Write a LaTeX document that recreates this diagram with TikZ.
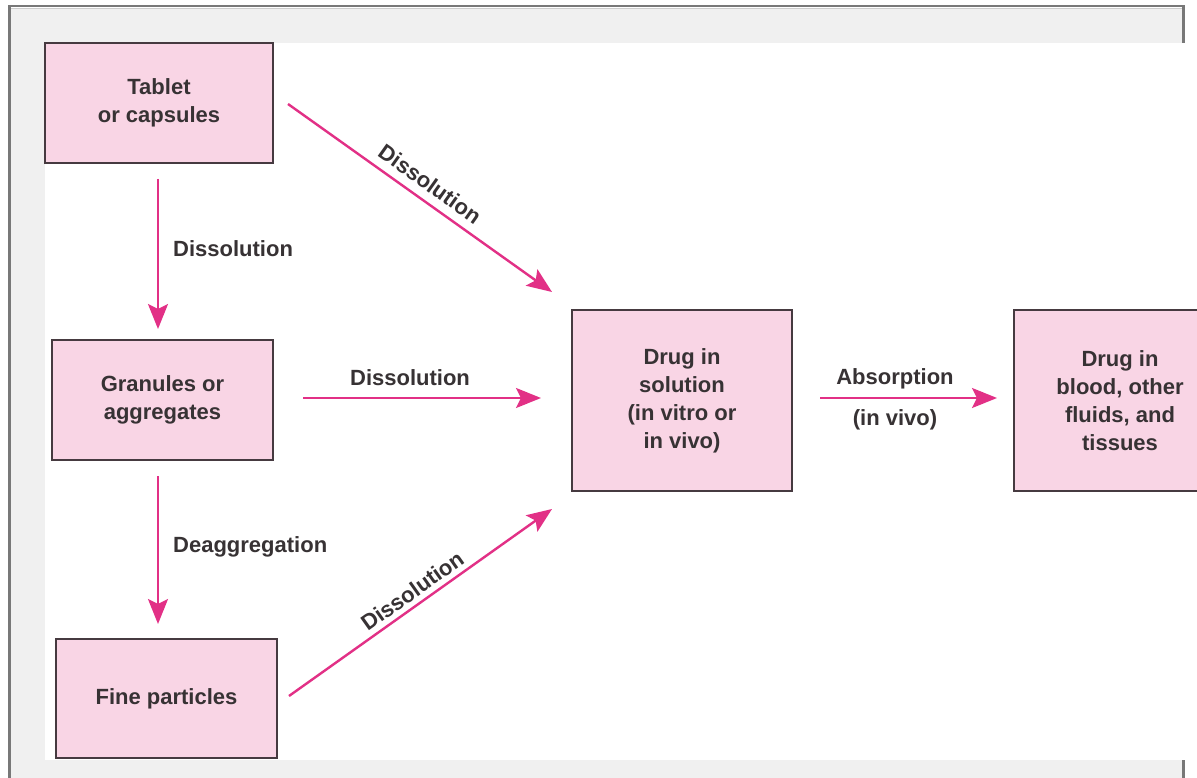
\documentclass[tikz,border=0pt]{standalone}
\usepackage{fontspec}
\setmainfont{Liberation Sans}
\usetikzlibrary{arrows.meta}
\definecolor{boxfill}{RGB}{249,213,229}
\definecolor{boxline}{RGB}{70,58,64}
\definecolor{arrcol}{RGB}{226,48,134}
\definecolor{txt}{RGB}{55,50,52}
\definecolor{framegray}{RGB}{120,120,120}
\definecolor{framelight}{RGB}{205,205,205}
\definecolor{panel}{RGB}{240,240,240}
\begin{document}
\begin{tikzpicture}[x=1pt,y=-1pt,
  box/.style={draw=boxline, line width=2pt, fill=boxfill, align=center,
    font=\fontsize{22}{28}\selectfont\bfseries, text=txt, inner sep=0pt},
  arr/.style={draw=arrcol, line width=2.4pt, -{Stealth[length=25pt,width=20pt,inset=5pt]}},
  lbl/.style={font=\fontsize{22}{28}\selectfont\bfseries, text=txt, inner sep=0pt}]
\useasboundingbox (0,0) rectangle (1197,778);
\fill[white] (0,0) rectangle (1197,778);
% frame
\fill[panel] (11,8) rectangle (1183,778);
\fill[white] (45,43) rectangle (1197,760);
\draw[framelight, line width=1.5pt] (11,8.5) -- (1182,8.5);
\draw[framegray, line width=2.5pt] (8,6) -- (1185,6);
\draw[framegray, line width=3pt] (9.5,6) -- (9.5,778);
\draw[framegray, line width=2.5pt] (1183.5,6) -- (1183.5,43);
\draw[framegray, line width=2.5pt] (1183.5,760) -- (1183.5,778);
% boxes
\node[box, minimum width=228, minimum height=120] (tab) at (159,103) {Tablet\\or capsules};
\node[box, minimum width=221, minimum height=120] (gran) at (162.5,400) {Granules or\\aggregates};
\node[box, minimum width=221, minimum height=119] (fine) at (166.5,698.5) {Fine particles};
\node[box, minimum width=220, minimum height=181] (sol) at (682,400.5) {Drug in\\solution\\(in vitro or\\in vivo)};
\node[box, minimum width=212, minimum height=181] (blood) at (1120,400.5) {Drug in\\blood, other\\fluids, and\\tissues};
% arrows
\draw[arr] ([xshift=-1pt,yshift=-15pt]tab.south) -- ([xshift=-4.5pt,yshift=10pt]gran.north)
  node[lbl, midway, anchor=west, xshift=14pt, yshift=5pt] {Dissolution};
\draw[arr] ([xshift=-4.5pt,yshift=-15pt]gran.south) -- ([xshift=-8.5pt,yshift=14pt]fine.north)
  node[lbl, midway, anchor=west, xshift=14pt, yshift=3pt] {Deaggregation};
\draw[arr] ([xshift=29pt,yshift=2pt]gran.east) -- ([xshift=-30pt,yshift=2.5pt]sol.west)
  node[lbl, midway, xshift=-12pt, yshift=20pt] {Dissolution};
\draw[arr] ([xshift=27pt,yshift=2.5pt]sol.east) -- ([xshift=-16pt,yshift=2.5pt]blood.west)
  node[lbl, midway, xshift=-13.5pt, yshift=19pt] {Absorption}
  node[lbl, midway, xshift=-13.5pt, yshift=-22pt] {(in vivo)};
\draw[arr] ([xshift=14pt,yshift=-62pt]tab.north east) -- ([xshift=-19pt,yshift=17pt]sol.north west)
  node[lbl, midway, sloped, above=8pt] {Dissolution};
\draw[arr] ([xshift=11pt,yshift=-58pt]fine.north east) -- ([xshift=-19pt,yshift=-17pt]sol.south west)
  node[lbl, midway, sloped, above=5pt] {Dissolution};
\end{tikzpicture}
\end{document}
